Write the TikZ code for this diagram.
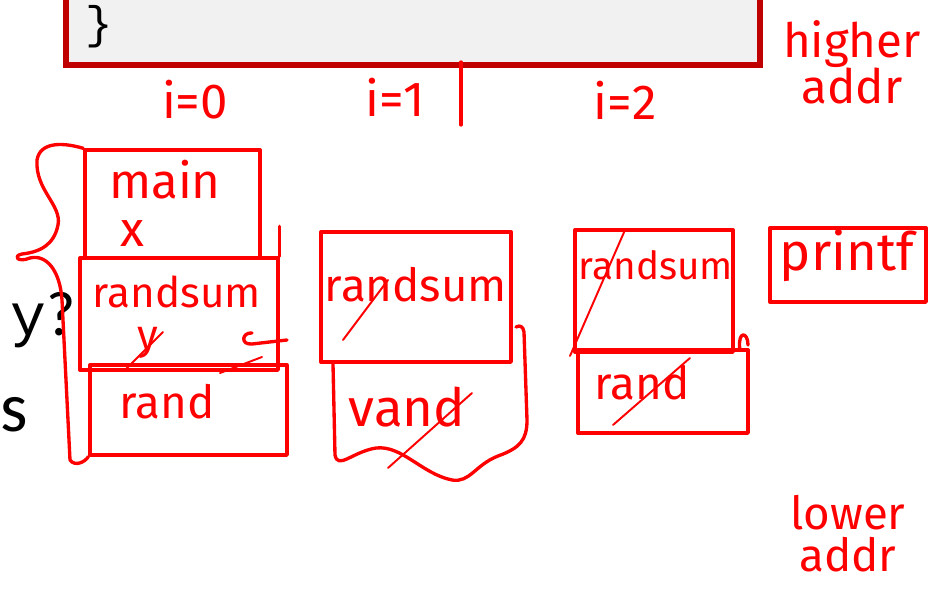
\documentclass[tikz,border=0pt]{standalone}
\usepackage{fontspec}
\setmainfont{Fira Sans}
\newfontfamily\codefont{Liberation Mono}
\newfontfamily\slidefont{Carlito}
\usetikzlibrary{fit}
\definecolor{ink}{HTML}{FF0000}
\definecolor{codeframe}{HTML}{C00000}
\definecolor{codefill}{HTML}{F1F1F1}
\begin{document}
\begin{tikzpicture}[x=0.02cm,y=-0.02cm,
  pen/.style={draw=ink,line width=1.9pt,line cap=round,line join=round},
  strike/.style={draw=ink,line width=1.1pt,line cap=round},
  frame/.style={pen,rectangle,inner sep=0pt},
  hand/.style={text=ink,inner sep=0pt,font=\fontsize{#1}{#1}\selectfont},
  hand/.default=26]
\useasboundingbox (0,0) rectangle (941,589);
\clip (0,0) rectangle (941,589);
% code listing at the top
\node[draw=codeframe,line width=3pt,fill=codefill,inner sep=0pt,fit={(66,-20) (760,65)}] (code) {};
\node[font=\codefont\fontsize{26}{26}\selectfont,inner sep=0pt] (close) at (99,27) {\}};
% slide text on the left
\node[inner sep=0pt,anchor=base west] (qy) at (10,335) {\codefont\fontsize{34}{34}\selectfont y\slidefont\fontsize{36}{36}\selectfont ?};
\node[inner sep=0pt,anchor=base west,font=\slidefont\fontsize{40}{40}\selectfont] (s) at (0,431) {s};
% loop counters
\node[hand=28] (i0) at (195,100) {i=0};
\node[hand=28] (i1) at (395,97) {i=1};
\node[hand=28] (i2) at (625,100) {i=2};
\coordinate (sepT) at (461,62);
\coordinate (sepB) at (461,125);
\draw[pen] (sepT) -- (sepB);
\node[hand=27,align=center] (high) at (852,62) {higher\\[-1pt]addr};
\node[hand=26,align=center] (low) at (848,534) {lower\\[-2pt]addr};
% i=0 stack
\node[frame,fit={(85,150) (260,258)}] (main0) {};
\node[hand=28] (mainT) at (165,180) {main};
\node[hand=28] (xvar) at (132,234) {x};
\node[frame,fit={(80,258) (278,370)}] (rs0) {};
\draw[pen] (rs0.north east) -- ++(0,-30);
\node[hand=24] (rs0T) at (177,292) {randsum};
\node[hand=24] (yvar) at (148,343) {y};
\coordinate (ys1) at (125,370);
\coordinate (ys2) at (163,332);
\draw[strike] (ys1) -- (ys2);
\node[frame,fit={(90,365) (287,455)}] (rand0) {};
\node[hand=26] (rand0T) at (167,402) {rand};
\coordinate (hookA) at (252,333);
\coordinate (hookB) at (287,340);
\draw[pen] (hookA) .. controls (242,332) and (240,345) .. (252,344) -- (hookB);
\coordinate (r0a) at (220,373);
\coordinate (r0b) at (262,357);
\draw[strike] (r0a) -- (r0b);
% bracket round the i=0 stack
\draw[pen] (main0.north west) .. controls (62,142) and (40,142) .. (37,160)
  .. controls (35,190) and (62,205) .. (58,225) .. controls (54,245) and (40,252) .. (22,254)
  .. controls (12,256) and (18,263) .. (30,258) .. controls (46,254) and (60,270) .. (62,300)
  -- (70,460) .. controls (75,467) and (85,462) .. (rand0.south west);
% i=1 stack
\node[frame,fit={(321,232) (511,362)}] (rs1) {};
\node[hand=26] (rs1T) at (416,285) {randsum};
\coordinate (s1a) at (343,340);
\coordinate (s1b) at (388,280);
\draw[strike] (s1a) -- (s1b);
\coordinate (v1a) at (333,364);
\draw[pen] (v1a) -- (335,455) .. controls (338,470) and (352,452) .. (376,448)
  .. controls (402,445) and (422,474) .. (452,480) .. controls (470,483) and (475,465) .. (498,456)
  .. controls (520,448) and (527,440) .. (527,420) -- (524,332) .. controls (523,326) and (520,325) .. (516,327);
\node[hand=30] (rand1T) at (407,407) {vand};
\coordinate (v1s) at (388,468);
\coordinate (v1e) at (472,393);
\draw[strike] (v1s) -- (v1e);
% i=2 stack
\node[frame,fit={(575,230) (733,352)}] (rs2) {};
\node[hand=22] (rs2T) at (656,265) {randsum};
\coordinate (d2a) at (570,356);
\coordinate (d2b) at (625,230);
\draw[strike] (d2a) -- (d2b);
\node[frame,fit={(578,350) (748,433)}] (rand2) {};
\draw[pen] (rand2.north east) ++(-10,0) .. controls (738,330) and (748,332) .. (748,345);
\node[hand=26] (rand2T) at (642,383) {rand};
\coordinate (s2a) at (613,425);
\coordinate (s2b) at (690,358);
\draw[strike] (s2a) -- (s2b);
% printf frame
\node[frame,fit={(770,228) (926,302)}] (pf) {};
\node[hand=30] (pfT) at (847,256) {printf};
\end{tikzpicture}
\end{document}
